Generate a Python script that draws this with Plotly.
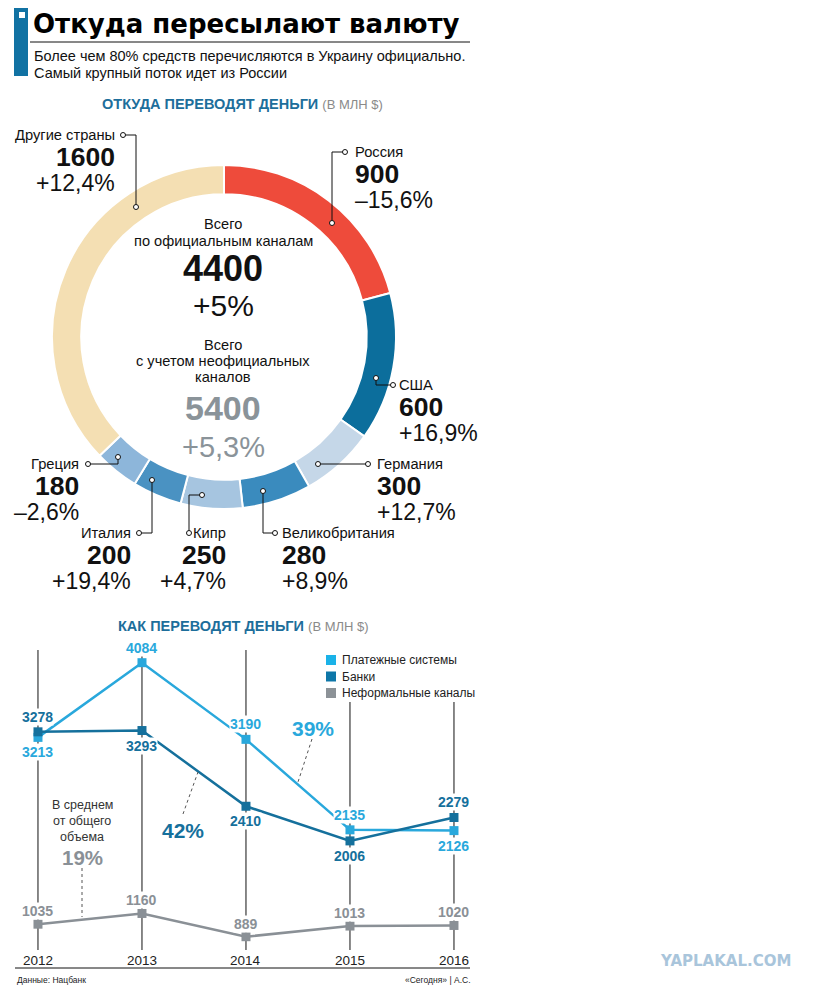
import plotly.graph_objects as go

W, H = 819, 991
PAD = 8  # body margin of the html page

# --- данные: откуда переводят деньги (млн $) ---
countries = ["Россия", "США", "Германия", "Великобритания", "Кипр", "Италия", "Греция", "Другие страны"]
amounts = [900, 600, 300, 280, 250, 200, 180, 1600]
changes = ["–15,6%", "+16,9%", "+12,7%", "+8,9%", "+4,7%", "+19,4%", "–2,6%", "+12,4%"]
total_official = "4400"
total_official_chg = "+5%"
total_all = "5400"
total_all_chg = "+5,3%"

# --- данные: как переводят деньги (млн $) ---
years = [2012, 2013, 2014, 2015, 2016]
payment = [3213, 4084, 3190, 2135, 2126]
banks = [3278, 3293, 2410, 2006, 2279]
informal = [1035, 1160, 889, 1013, 1020]
series_names = ["Платежные системы", "Банки", "Неформальные каналы"]

slice_colors = ["#EE4B3B", "#0C6E9C", "#C5D7E8", "#3A8BBE", "#A6C5E0", "#4A92C2", "#8DB6DA", "#F4DFB3"]
C_PAY, C_BANK, C_INF = "#29A8DC", "#15709C", "#8A9096"
FONT = "Liberation Sans, Arial, sans-serif"


def fx(x):
    return (x - PAD) / W


def fy(y):
    return 1 - (y - PAD) / H


annotations = []
shapes = []


def txt(x, y, text, size, color="#111", anchor="center", family=FONT):
    annotations.append(dict(x=fx(x), y=fy(y), xref="paper", yref="paper", text=text,
                            showarrow=False, xanchor=anchor, yanchor="middle",
                            font=dict(size=size, color=color, family=family)))


def dot(x, y, r=2.5):
    shapes.append(dict(type="circle", xref="paper", yref="paper",
                       x0=fx(x - r), x1=fx(x + r), y0=fy(y + r), y1=fy(y - r),
                       line=dict(color="#111", width=1), fillcolor="white", layer="above"))


def leader(points):
    path = "M " + " L ".join(f"{fx(px)},{fy(py)}" for px, py in points)
    shapes.append(dict(type="path", xref="paper", yref="paper", path=path,
                       line=dict(color="#111", width=1), layer="above"))
    dot(*points[0])
    dot(*points[-1])


fig = go.Figure()

# donut
fig.add_trace(go.Pie(
    values=amounts, labels=countries, sort=False, direction="clockwise", rotation=0,
    hole=0.83, textinfo="none", hoverinfo="label+value", showlegend=False,
    marker=dict(colors=slice_colors, line=dict(color="white", width=2)),
    domain=dict(x=[fx(52), fx(396)], y=[fy(509), fy(165)]),
))

# header
shapes.append(dict(type="rect", xref="paper", yref="paper", x0=fx(14), x1=fx(28), y0=fy(76), y1=fy(8),
                   fillcolor="#1172A3", line=dict(width=0)))
shapes.append(dict(type="rect", xref="paper", yref="paper", x0=fx(19), x1=fx(25), y0=fy(18), y1=fy(12),
                   fillcolor="white", line=dict(width=0)))
shapes.append(dict(type="line", xref="paper", yref="paper", x0=fx(30), x1=fx(470), y0=fy(42), y1=fy(42),
                   line=dict(color="#111", width=1)))
txt(31, 24, "<b>Откуда пересылают валюту</b>", 26, "#000", "left", "DejaVu Sans, sans-serif")
txt(32, 56, "Более чем 80% средств перечисляются в Украину официально.", 14.5, "#111", "left")
txt(32, 73, "Самый крупный поток идет из России", 14.5, "#111", "left")

sub = "<span style='color:#8a8a8a;font-size:13px'>(В МЛН $)</span>"
txt(243, 104, "<b>ОТКУДА ПЕРЕВОДЯТ ДЕНЬГИ</b> " + sub, 14.5, "#1D6E9B")
txt(244, 626, "<b>КАК ПЕРЕВОДЯТ ДЕНЬГИ</b> " + sub, 14.5, "#1D6E9B")

# donut center
txt(223, 224, "Всего", 14.6)
txt(223, 241, "по официальным каналам", 14.6)
txt(223, 268, f"<b>{total_official}</b>", 36)
txt(223, 305, total_official_chg, 30)
txt(223, 345, "Всего", 14.6)
txt(223, 361, "с учетом неофициальных", 14.6)
txt(223, 377, "каналов", 14.6)
txt(223, 408, f"<b>{total_all}</b>", 34, "#8A9399")
txt(223, 447, total_all_chg, 29, "#8A9399")

# country labels: x, y of the name, alignment, leader polyline
label_pos = {
    "Другие страны": (117, 135, "right", [(123, 135), (136, 135), (136, 207)]),
    "Россия": (353, 152, "left", [(345, 152), (332, 152), (332, 223)]),
    "США": (397, 385, "left", [(393, 385), (376, 385), (376, 378)]),
    "Германия": (375, 464, "left", [(368, 464), (318, 464)]),
    "Великобритания": (280, 533, "left", [(275, 533), (263, 533), (263, 491)]),
    "Кипр": (228, 533, "right", [(189, 533), (189, 495), (202, 495)]),
    "Италия": (133, 533, "right", [(139, 533), (152, 533), (152, 480)]),
    "Греция": (81, 464, "right", [(88, 464), (118, 464), (118, 457)]),
}
for name, val, chg in zip(countries, amounts, changes):
    x, y, side, pts = label_pos[name]
    txt(x, y, name, 14.7, "#111", side)
    txt(x, y + 22, f"<b>{val}</b>", 26.5, "#111", side)
    txt(x, y + 48, chg, 23, "#111", side)
    leader(pts)

# line chart: vertical year lines
for yr in years:
    top = 702 if yr >= 2015 else 650
    shapes.append(dict(type="line", xref="x", yref="paper", x0=yr, x1=yr, y0=fy(950), y1=fy(top),
                       line=dict(color="#111", width=1), layer="below"))
    annotations.append(dict(x=yr, y=fy(960), xref="x", yref="paper", text=str(yr), showarrow=False,
                            yanchor="middle", font=dict(size=13.5, color="#222", family=FONT)))
shapes.append(dict(type="line", xref="paper", yref="paper", x0=fx(15), x1=fx(470), y0=fy(968), y1=fy(968),
                   line=dict(color="#111", width=1)))

for vals, col, name in zip([payment, banks, informal], [C_PAY, C_BANK, C_INF], series_names):
    fig.add_trace(go.Scatter(x=years, y=vals, mode="lines+markers", name=name, showlegend=False,
                             line=dict(color=col, width=2.5),
                             marker=dict(symbol="square", size=9, color=col)))

# value labels: +1 above the marker, -1 below
pay_side = [-1, 1, 1, 1, -1]
bank_side = [1, -1, -1, -1, 1]
for vals, sides, col, shift in [(payment, pay_side, C_PAY, 15), (banks, bank_side, C_BANK, 15),
                                (informal, [1] * 5, C_INF, 13)]:
    for yr, v, s in zip(years, vals, sides):
        annotations.append(dict(x=yr, y=v, xref="x", yref="y", text=f"<b>{v}</b>", showarrow=False,
                                yanchor="middle", yshift=shift * s, bgcolor="white", borderpad=0,
                                font=dict(size=14, color=col, family=FONT)))

# legend
for i, (name, col) in enumerate(zip(series_names, ["#1AB2E8", "#0E77A8", "#8C9297"])):
    yc = 660 + i * 16.5
    shapes.append(dict(type="rect", xref="paper", yref="paper", x0=fx(326), x1=fx(336),
                       y0=fy(yc + 5), y1=fy(yc - 5), fillcolor=col, line=dict(width=0)))
    txt(340, yc, name, 12, "#222", "left")

# notes
txt(313, 728, "<b>39%</b>", 21, C_PAY)
shapes.append(dict(type="line", xref="paper", yref="paper", x0=fx(312), x1=fx(298), y0=fy(739), y1=fy(782),
                   line=dict(color="#555", width=1, dash="dot")))
txt(183, 830, "<b>42%</b>", 21, C_BANK)
shapes.append(dict(type="line", xref="paper", yref="paper", x0=fx(183), x1=fx(198), y0=fy(814), y1=fy(772),
                   line=dict(color="#555", width=1, dash="dot")))
txt(82, 805, "В среднем", 12.5, "#333")
txt(82, 821, "от общего", 12.5, "#333")
txt(82, 837, "объема", 12.5, "#333")
txt(82, 857, "<b>19%</b>", 20.5, C_INF)
shapes.append(dict(type="line", xref="paper", yref="paper", x0=fx(82), x1=fx(82), y0=fy(868), y1=fy(917),
                   line=dict(color="#555", width=1, dash="dot")))

txt(15, 980, "Данные: Нацбанк", 8.5, "#222", "left")
txt(473, 980, "«Сегодня» | А.С.", 8.5, "#222", "right")
txt(725, 961, "<b>YAPLAKAL.COM</b>", 15, "#A9C5DB", "center", "DejaVu Sans, sans-serif")

fig.update_layout(
    width=W, height=H, margin=dict(l=0, r=0, t=0, b=0),
    paper_bgcolor="white", plot_bgcolor="white",
    xaxis=dict(domain=[fx(15), fx(470)], range=[2011.779, 2016.154], visible=False, fixedrange=True),
    yaxis=dict(domain=[fy(968), fy(650)], range=[524, 4232], visible=False, fixedrange=True),
    annotations=annotations, shapes=shapes,
)
fig.write_html("out.html")
